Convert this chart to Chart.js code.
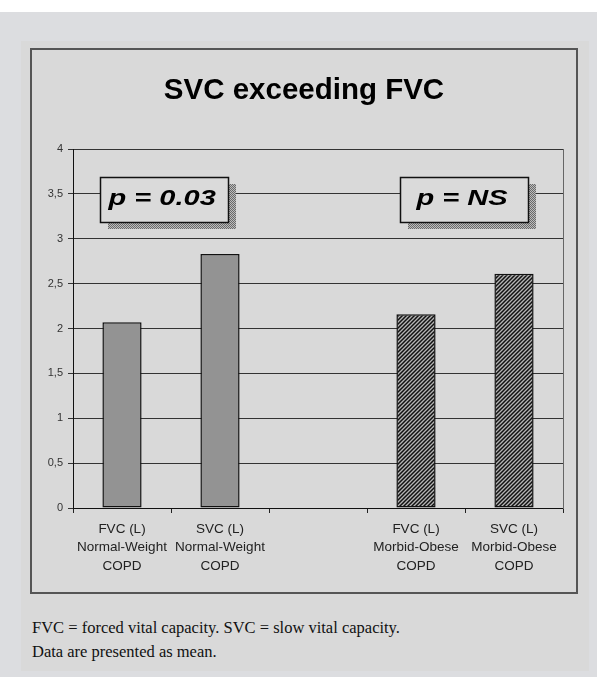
<!DOCTYPE html>
<html>
<head>
<meta charset="utf-8">
<title>SVC exceeding FVC</title>
<script src="https://cdn.jsdelivr.net/npm/chart.js@4/dist/chart.umd.min.js"></script>
<style>
  html, body { margin: 0; padding: 0; background: #fff; }
  body { width: 597px; height: 677px; position: relative; overflow: hidden; }
  #outer { position: absolute; left: 0; top: 12px; width: 597px; height: 665px; background: #dcdde0; }
  #panel { position: absolute; left: 21px; top: 41px; width: 568px; height: 630px; background: #d9d9d9; }
  #frame { position: absolute; left: 30px; top: 48px; width: 548px; height: 546px; box-sizing: border-box;
           border: 2px solid #555; }
  #chart { position: absolute; left: 30px; top: 48px; }
  .note { position: absolute; left: 32px; font: 16.5px "Liberation Serif", "Times New Roman", serif;
          color: #111; line-height: 24px; }
</style>
</head>
<body>
<div id="outer"></div>
<div id="panel"></div>
<div id="frame"></div>
<canvas id="chart" width="548" height="546"></canvas>
<div class="note" style="top:616px">FVC = forced vital capacity. SVC = slow vital capacity.</div>
<div class="note" style="top:640px">Data are presented as mean.</div>

<script>
// chart data
const categories = [
  ['FVC (L)', 'Normal-Weight', 'COPD'],
  ['SVC (L)', 'Normal-Weight', 'COPD'],
  '',
  ['FVC (L)', 'Morbid-Obese', 'COPD'],
  ['SVC (L)', 'Morbid-Obese', 'COPD'],
];
const meanValues = [2.07, 2.83, null, 2.16, 2.61];
const yTicks = [0, 0.5, 1, 1.5, 2, 2.5, 3, 3.5, 4];
const pLabels = ['p = 0.03', 'p = NS'];

// hatched fill for the morbid-obese bars
function makeHatch() {
  const c = document.createElement('canvas');
  c.width = 4; c.height = 4;
  const g = c.getContext('2d');
  g.fillStyle = '#b4b4b4';
  g.fillRect(0, 0, 4, 4);
  g.strokeStyle = '#111';
  g.lineWidth = 1.5;
  g.beginPath();
  g.moveTo(0, 4); g.lineTo(4, 0);
  g.moveTo(-1, 1); g.lineTo(1, -1);
  g.moveTo(3, 5); g.lineTo(5, 3);
  g.stroke();
  return g.createPattern(c, 'repeat');
}

function makeChecker() {
  const c = document.createElement('canvas');
  c.width = 2; c.height = 2;
  const g = c.getContext('2d');
  g.fillStyle = '#bcbcbc';
  g.fillRect(0, 0, 2, 2);
  g.fillStyle = '#6a6a6a';
  g.fillRect(0, 0, 1, 1);
  g.fillRect(1, 1, 1, 1);
  return g.createPattern(c, 'repeat');
}

const hatch = makeHatch();
const checker = makeChecker();
const barFill = meanValues.map((v, i) => (i < 2 ? '#939393' : hatch));

// p-value boxes sit over the gridlines, drawn after the bars
const pBoxPlugin = {
  id: 'pBoxes',
  afterDatasetsDraw(chart) {
    const { ctx, scales } = chart;
    const spots = [0.43, 3.49];
    const w = 128, h = 45;
    ctx.save();
    pLabels.forEach((label, i) => {
      const cx = scales.x.getPixelForValue(0) + spots[i] * (scales.x.getPixelForValue(1) - scales.x.getPixelForValue(0));
      const cy = scales.y.getPixelForValue(3.44);
      const x0 = Math.round(cx - w / 2), y0 = Math.round(cy - h / 2);
      ctx.fillStyle = checker;
      ctx.fillRect(x0 + 8, y0 + 7, w, h);
      ctx.fillStyle = '#dadada';
      ctx.fillRect(x0, y0, w, h);
      ctx.strokeStyle = '#111';
      ctx.lineWidth = 1.5;
      ctx.strokeRect(x0 + 0.5, y0 + 0.5, w, h);

      ctx.save();
      ctx.translate(cx - 2, y0 + 28);
      ctx.scale(1.32, 1);
      ctx.font = 'bold italic 22px "Liberation Sans", Arial, sans-serif';
      ctx.fillStyle = '#000';
      ctx.textAlign = 'center';
      ctx.textBaseline = 'alphabetic';
      ctx.fillText(label, 0, 0);
      ctx.restore();
    });
    ctx.restore();
  }
};

new Chart(document.getElementById('chart'), {
  type: 'bar',
  data: {
    labels: categories,
    datasets: [{
      data: meanValues,
      backgroundColor: barFill,
      borderColor: '#111',
      borderWidth: 1.5,
      borderSkipped: false,
      barPercentage: 0.4,
      categoryPercentage: 1,
    }],
  },
  options: {
    responsive: false,
    devicePixelRatio: 1,
    animation: false,
    layout: { padding: 0 },
    plugins: {
      legend: { display: false },
      tooltip: { enabled: false },
      title: {
        display: true,
        text: 'SVC exceeding FVC',
        color: '#000',
        font: { family: '"Liberation Sans", Arial, sans-serif', size: 29.5, weight: 'bold' },
        padding: { top: 25, bottom: 40.6 },
      },
    },
    scales: {
      x: {
        grid: { drawOnChartArea: false, drawTicks: true, tickLength: 5, color: '#222', offset: true },
        border: { color: '#111', width: 1 },
        ticks: {
          color: '#222',
          padding: 7,
          maxRotation: 0,
          autoSkip: false,
          font: { family: '"Liberation Sans", Arial, sans-serif', size: 13.5, lineHeight: 1.37 },
        },
        afterFit(scale) { scale.height = 86; },
      },
      y: {
        min: 0,
        max: 4,
        afterBuildTicks(scale) { scale.ticks = yTicks.map(v => ({ value: v })); },
        grid: { color: '#333', lineWidth: 1, tickLength: 5, drawTicks: true },
        border: { color: '#111', width: 1 },
        ticks: {
          color: '#333',
          padding: 5,
          font: { family: '"Liberation Sans", Arial, sans-serif', size: 11 },
          callback: (v) => String(v).replace('.', ','),
        },
        afterFit(scale) { scale.width = 43; },
      },
      // empty right axis: draws the plot's right edge and reserves the margin
      yRight: {
        position: 'right',
        min: 0,
        max: 4,
        grid: { drawOnChartArea: false, drawTicks: false },
        border: { display: true, color: '#666', width: 1 },
        ticks: { display: false },
        afterFit(scale) { scale.width = 15; },
      },
    },
  },
  plugins: [pBoxPlugin],
});
</script>
</body>
</html>
